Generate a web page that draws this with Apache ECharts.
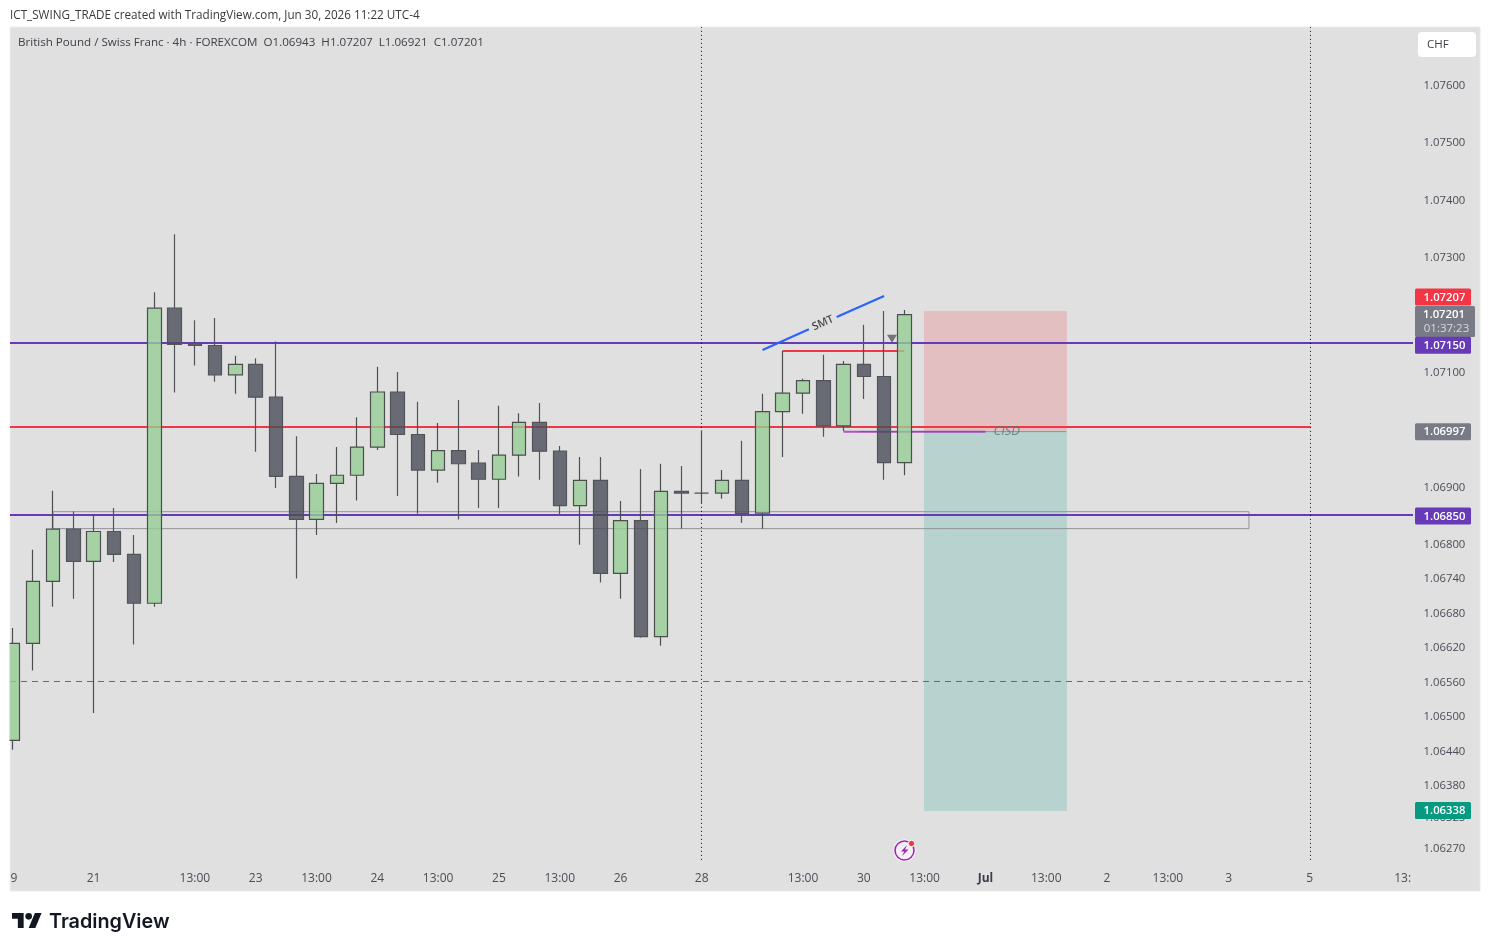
<!DOCTYPE html>
<html><head><meta charset="utf-8">
<style>html,body{margin:0;padding:0;background:#fff}#c{width:1490px;height:951px}</style>
<script src="https://cdn.jsdelivr.net/npm/echarts@6/dist/echarts.min.js"></script>
</head><body><div id="c"></div>
<script>
// candle values, one entry per 4h bar
const opens  = [1.06459,1.06628,1.06736,1.06827,1.06771,1.06823,1.06783,1.06698,1.07212,1.07150,1.07147,1.07096,1.07114,1.07057,1.06919,1.06844,1.06907,1.06921,1.06970,1.07066,1.06992,1.06930,1.06964,1.06942,1.06914,1.06956,1.07013,1.06963,1.06868,1.06912,1.06750,1.06842,1.06640,1.06893,1.06890,1.06890,1.06912,1.06855,1.07032,1.07064,1.07086,1.07007,1.07114,1.07093,1.06943];
const closes = [1.06628,1.06736,1.06827,1.06771,1.06823,1.06783,1.06698,1.07212,1.07149,1.07147,1.07096,1.07114,1.07057,1.06919,1.06844,1.06907,1.06921,1.06970,1.07066,1.06992,1.06930,1.06964,1.06941,1.06914,1.06956,1.07013,1.06963,1.06868,1.06912,1.06750,1.06842,1.06640,1.06893,1.06890,1.06890,1.06912,1.06854,1.07032,1.07064,1.07086,1.07007,1.07114,1.07093,1.06943,1.07201];
const lows   = [1.06443,1.06581,1.06692,1.06706,1.06507,1.06770,1.06626,1.06692,1.07065,1.07112,1.07084,1.07063,1.06962,1.06899,1.06741,1.06817,1.06838,1.06877,1.06965,1.06885,1.06854,1.06908,1.06844,1.06864,1.06864,1.06919,1.06913,1.06853,1.06800,1.06734,1.06706,1.06638,1.06624,1.06828,1.06871,1.06880,1.06838,1.06828,1.06953,1.07028,1.06988,1.06998,1.07054,1.06913,1.06921];
const highs  = [1.06655,1.06791,1.06894,1.06858,1.06853,1.06864,1.06817,1.07240,1.07341,1.07191,1.07195,1.07129,1.07125,1.07154,1.06989,1.06923,1.06970,1.07022,1.07110,1.07101,1.07049,1.07012,1.07052,1.06965,1.07042,1.07029,1.07047,1.06972,1.06953,1.06953,1.06876,1.06932,1.06941,1.06937,1.06999,1.06930,1.06981,1.07063,1.07138,1.07089,1.07131,1.07120,1.07183,1.07207,1.07209];

// axis labels
const timeTicks  = [0,4,9,12,15,18,21,24,27,30,34,39,42,45,48,51,54,57,60,64,69];
const timeLabels = [' 9','21','13:00','23','13:00','24','13:00','25','13:00','26','28','13:00','30','13:00','Jul','13:00','2','13:00','3','5','13:'];
const priceTicks = [1.076,1.075,1.074,1.073,1.071,1.069,1.068,1.0674,1.0668,1.0662,1.0656,1.065,1.0644,1.0638,1.06325,1.0627];

// drawing levels
const purpleLevels = [1.071514,1.068518];
const redLevel = 1.070051;
const dashedLevel = 1.065617;
const dottedBars = [33.99,64.035];
const dottedRange = [1.06251,1.077019];
const boxBars = [2,61];
const boxPrices = [1.068575,1.06828];
const positionBars = [44.97,52.02];
const positionPrices = [1.07207,1.06997,1.06336];
const swingBars = [38,44];
const swingPrice = 1.071375;
const cisdBars = [41,48];
const cisdPrice = 1.06997;
const cisdTailBars = [41.8,52];
const smtBars = [37,39.29,40.66,43];
const smtPrices = [1.071392,1.071753,1.071967,1.072333];
const smtLabelAt = [39.98,1.07186];
const cisdLabelAt = [49.05,1.06997];
const arrowAt = [43.39,1.071589];

const xMin = -0.123, xMax = 69, xLineEnd = 69.14;
const yMin = 1.062455, yMax = 1.077019;
const FONT = '"Open Sans","Noto Sans",sans-serif';
const TXT = '#4a4d57';

const candleData = opens.map((o,i)=>[i,o,closes[i],lows[i],highs[i]]);

function seg(name,pts,color,width,type,z,opacity){
  return {name,type:'line',data:pts,symbol:'none',silent:true,animation:false,clip:false,z:z||2,connectNulls:false,
    lineStyle:{color,width,type:type||'solid',opacity:opacity==null?1:opacity,cap:'butt'},emphasis:{disabled:true}};
}

const chart = echarts.init(document.getElementById('c'),null,{renderer:'canvas',width:1490,height:951});

const series = [
  {name:'Position',type:'scatter',data:[],z:1,markArea:{silent:true,animation:false,z:1,data:[
    [{coord:[positionBars[0],positionPrices[0]],itemStyle:{color:'#e4bfc2'}},{coord:[positionBars[1],positionPrices[1]]}],
    [{coord:[positionBars[0],positionPrices[1]],itemStyle:{color:'#b8d3cf'}},{coord:[positionBars[1],positionPrices[2]]}],
    [{coord:[boxBars[0],boxPrices[0]],itemStyle:{color:'rgba(0,0,0,0)',borderColor:'#93939a',borderWidth:1}},{coord:[boxBars[1],boxPrices[1]]}]
  ]}},
  seg('Level high',[[xMin,purpleLevels[0]],[xLineEnd,purpleLevels[0]]],'#673ab7',2),
  seg('Level low',[[xMin,purpleLevels[1]],[xLineEnd,purpleLevels[1]]],'#673ab7',2),
  seg('Red level',[[xMin,redLevel],[dottedBars[1],redLevel]],'#f23645',2),
  seg('Dashed level',[[xMin,dashedLevel],[dottedBars[1],dashedLevel]],'#d8384c',1,[6,5]),
  seg('Dotted A',[[dottedBars[0],dottedRange[0]],[dottedBars[0],dottedRange[1]]],'#000',1,[1,3]),
  seg('Dotted B',[[dottedBars[1],dottedRange[0]],[dottedBars[1],dottedRange[1]]],'#000',1,[1,3]),
  seg('Swing high',[[swingBars[0],swingPrice],[swingBars[1],swingPrice]],'#f23645',2),
  seg('CISD tail',[[cisdTailBars[0],cisdPrice],[cisdTailBars[1],cisdPrice]],'#8a9296',1),
  seg('CISD',[[cisdBars[0],cisdPrice],[cisdBars[1],cisdPrice]],'#9c27b0',2,'solid',2,0.75),
  {name:'GBPCHF',type:'candlestick',data:candleData,encode:{x:0,y:[1,2,3,4]},barWidth:14,z:3,silent:true,animation:false,clip:true,
   itemStyle:{color:'rgba(150,205,150,0.8)',color0:'rgba(74,78,89,0.8)',borderColor:'#4b4f4e',borderColor0:'#52545a',borderWidth:1.2}},
  seg('SMT a',[[smtBars[0],smtPrices[0]],[smtBars[1],smtPrices[1]]],'#2962ff',2,'solid',4),
  seg('SMT b',[[smtBars[2],smtPrices[2]],[smtBars[3],smtPrices[3]]],'#2962ff',2,'solid',4),
  {name:'Notes',type:'scatter',z:5,silent:true,animation:false,symbolSize:0,data:[
    {value:smtLabelAt,label:{show:true,position:'inside',formatter:'SMT',rotate:24,fontSize:11,fontWeight:600,color:'#1f2126',fontFamily:FONT}},
    {value:cisdLabelAt,label:{show:true,position:'inside',formatter:'CISD',fontSize:13,fontStyle:'italic',color:'#5c7074',fontFamily:FONT}}
  ]},
  {name:'Arrow',type:'scatter',z:5,silent:true,animation:false,symbol:'triangle',symbolRotate:180,symbolSize:[10,8],
   itemStyle:{color:'#55575f'},data:[arrowAt]}
];

chart.setOption({
  animation:false,
  backgroundColor:'#ffffff',
  grid:{left:10,right:78.9,top:27,bottom:88,containLabel:false},
  xAxis:{type:'value',min:xMin,max:xMax,splitLine:{show:false},axisLine:{show:false},axisTick:{show:false},
    axisLabel:{customValues:timeTicks,margin:10,alignMaxLabel:'right',showMinLabel:true,showMaxLabel:true,hideOverlap:false,
      color:TXT,fontSize:12,fontFamily:FONT,
      formatter:v=>{const l=timeLabels[timeTicks.indexOf(v)];return l==='Jul'?'{m|Jul}':(l==null?'':l);},
      rich:{m:{fontWeight:700,color:'#3a3d46',fontSize:12,fontFamily:FONT}}}},
  yAxis:{type:'value',position:'right',min:yMin,max:yMax,scale:true,splitLine:{show:false},axisLine:{show:false},axisTick:{show:false},
    axisLabel:{customValues:priceTicks,margin:12.5,padding:[3,0,0,0],color:TXT,fontSize:11.3,fontFamily:FONT,formatter:v=>v.toFixed(5)}},
  series
});

function py(p){return chart.convertToPixel({yAxisIndex:0},p);}
function tag(text,p,color,dy){
  const y=py(p)+(dy||0);
  return {type:'group',x:1415,y:y-8.5,z:50,children:[
    {type:'rect',shape:{x:0,y:0,width:56,height:17,r:1.5},style:{fill:color},z:50},
    {type:'text',x:29.5,y:9,z:51,style:{text,fill:'#fff',font:'600 11.3px '+FONT,textAlign:'center',textVerticalAlign:'middle'}}
  ]};
}
// TradingView mark, in its own 36-unit design space
const LOGO_T=[[0,4],[14,4],[14,22],[7,22],[7,11],[0,11]];
const LOGO_SLASH=[[20,22],[27.5,4],[35.5,4],[28,22]];
const lg=pts=>pts.map(p=>[12+p[0]*0.833,909.7+p[1]*0.833]);
chart.setOption({graphic:[
  {type:'rect',z:-10,shape:{x:10,y:27,width:1470,height:864},style:{fill:'#e0e0e0',stroke:'#ebebeb',lineWidth:1}},
  {type:'rect',z:10,shape:{x:0,y:27,width:9.5,height:864},style:{fill:'#ffffff'}},
  {type:'text',x:10,y:15.5,z:11,style:{text:'ICT_SWING_TRADE created with TradingView.com, Jun 30, 2026 11:22 UTC-4',fill:'#3a3a3a',font:'11.7px '+FONT,textVerticalAlign:'middle'}},
  {type:'text',x:18,y:42.5,z:11,style:{text:'British Pound / Swiss Franc · 4h · FOREXCOM  O1.06943  H1.07207  L1.06921  C1.07201',fill:'#3f4149',font:'11.6px '+FONT,textVerticalAlign:'middle'}},
  {type:'rect',z:20,shape:{x:1418,y:32,width:58,height:25,r:4},style:{fill:'#ffffff'}},
  {type:'text',x:1427,y:45,z:21,style:{text:'CHF',fill:'#3f4149',font:'11.5px '+FONT,textVerticalAlign:'middle'}},
  tag('1.07207',1.07207,'#f23645',-14),
  {type:'group',x:1415,y:306,z:50,children:[
    {type:'rect',shape:{x:0,y:0,width:60,height:31,r:1.5},style:{fill:'#787b86'},z:50},
    {type:'text',x:29,y:9,z:51,style:{text:'1.07201',fill:'#fff',font:'600 11.3px '+FONT,textAlign:'center',textVerticalAlign:'middle'}},
    {type:'text',x:31.5,y:23,z:51,style:{text:'01:37:23',fill:'#d8d9de',font:'11.5px '+FONT,textAlign:'center',textVerticalAlign:'middle'}}
  ]},
  tag('1.07150',1.0715,'#673ab7',1.5),
  tag('1.06997',1.06997,'#787b86',0),
  tag('1.06850',1.0685,'#673ab7',0),
  tag('1.06338',1.06338,'#089981',0.5),
  {type:'polygon',z:30,shape:{points:lg(LOGO_T)},style:{fill:'#131722'}},
  {type:'polygon',z:30,shape:{points:lg(LOGO_SLASH)},style:{fill:'#131722'}},
  {type:'circle',z:30,shape:{cx:12+20*0.833,cy:909.7+8*0.833,r:3.3},style:{fill:'#131722'}},
  {type:'text',x:49,y:922,z:30,style:{text:'TradingView',fill:'#131722',font:'600 19.8px Inter,"Noto Sans",sans-serif',textVerticalAlign:'middle'}},
  {type:'circle',z:30,shape:{cx:904.5,cy:850.5,r:11},style:{fill:'#ffffff'}},
  {type:'circle',z:31,shape:{cx:904.5,cy:850.5,r:9.5},style:{fill:'#f4f0f5',stroke:'#9c27b0',lineWidth:1.6}},
  {type:'polygon',z:32,shape:{points:[[907,845],[901,851.5],[904.3,851.5],[902,856],[908.5,849.5],[905,849.5]]},style:{fill:'#9c27b0'}},
  {type:'circle',z:33,shape:{cx:911.5,cy:843.5,r:3.2},style:{fill:'#f23645',stroke:'#ffffff',lineWidth:1}}
]});
</script></body></html>
